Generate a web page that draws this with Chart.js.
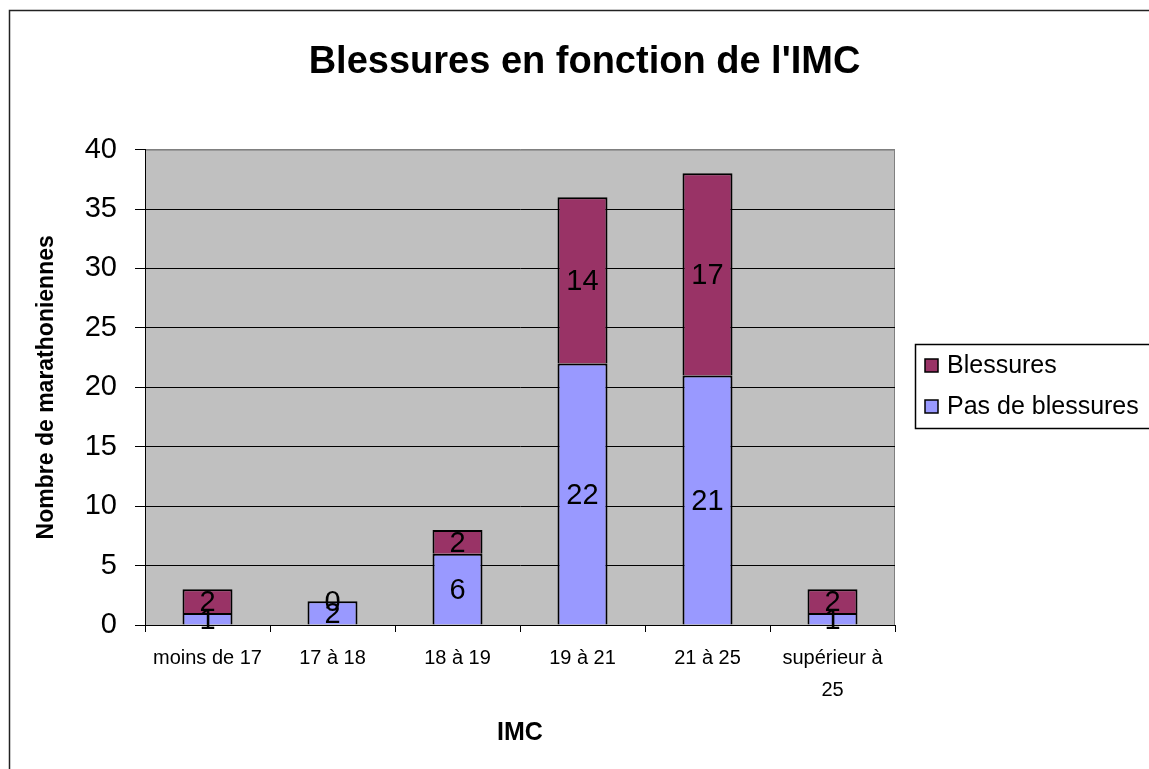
<!DOCTYPE html>
<html>
<head>
<meta charset="utf-8">
<script src="https://cdn.jsdelivr.net/npm/chart.js@4/dist/chart.umd.min.js"></script>
<style>
  body { margin: 0; background: #fff; }
</style>
</head>
<body>
<canvas id="myChart" width="1149" height="769"></canvas>
<script>
var categories = ['moins de 17', '17 à 18', '18 à 19', '19 à 21', '21 à 25', ['supérieur à', '25']];
var pasDeBlessures = [1, 2, 6, 22, 21, 1];
var blessures = [2, 0, 2, 14, 17, 2];
var font = "'Liberation Sans', Arial, sans-serif";

var ctx = document.getElementById('myChart');

// fond gris + cadre du graphique
var fondPlugin = {
    id: 'fond',
    beforeDraw: function(chart){
        var c = chart.ctx, a = chart.chartArea;
        c.save();
        c.fillStyle = '#C0C0C0';
        c.fillRect(a.left, a.top, a.right - a.left, a.bottom - a.top);
        c.strokeStyle = '#808080';
        c.lineWidth = 1;
        c.beginPath();
        c.moveTo(a.left, a.top + 0.5);
        c.lineTo(a.right - 0.5, a.top + 0.5);
        c.lineTo(a.right - 0.5, a.bottom);
        c.stroke();
        c.strokeStyle = '#222';
        c.lineWidth = 1.5;
        c.beginPath();
        c.moveTo(9.5, chart.height);
        c.lineTo(9.5, 10.5);
        c.lineTo(chart.width, 10.5);
        c.stroke();
        c.restore();
    }
};

// étiquettes de valeurs + légende encadrée
var etiquettesPlugin = {
    id: 'etiquettes',
    afterDatasetsDraw: function(chart){
        var c = chart.ctx;
        c.save();
        c.fillStyle = '#000';
        c.font = '29px ' + font;
        c.textAlign = 'center';
        c.textBaseline = 'middle';
        chart.data.datasets.forEach(function(ds, i){
            chart.getDatasetMeta(i).data.forEach(function(el, j){
                c.fillText(ds.data[j], el.x, (el.y + el.base) / 2 + 2);
            });
        });
        c.restore();
    },
    afterDraw: function(chart){
        var c = chart.ctx;
        c.save();
        c.fillStyle = '#fff';
        c.fillRect(915, 344, 240, 84);
        c.strokeStyle = '#000';
        c.lineWidth = 1.5;
        c.strokeRect(915.5, 344.5, 240, 84);
        c.font = '25px ' + font;
        c.textBaseline = 'middle';
        var items = chart.data.datasets.slice().reverse();
        items.forEach(function(ds, i){
            var y = 366 + i * 41;
            c.fillStyle = ds.backgroundColor;
            c.fillRect(925, y - 7, 13, 13);
            c.strokeStyle = '#000';
            c.lineWidth = 1.5;
            c.strokeRect(925, y - 7, 13, 13);
            c.fillStyle = '#000';
            c.fillText(ds.label, 947, y);
        });
        c.restore();
    }
};

var myChart = new Chart(ctx, {
    type: 'bar',
    data: {
        labels: categories,
        datasets: [{
            label: 'Pas de blessures',
            data: pasDeBlessures,
            backgroundColor: '#9999FF',
            borderColor: '#000',
            borderWidth: { top: 2, left: 2, right: 2, bottom: 0 },
            borderSkipped: false
        }, {
            label: 'Blessures',
            data: blessures,
            backgroundColor: '#993366',
            borderColor: '#000',
            borderWidth: { top: 2, left: 2, right: 2, bottom: 0 },
            borderSkipped: false
        }]
    },
    options: {
        responsive: false,
        animation: false,
        layout: { padding: { left: 20, right: 0, top: 0, bottom: 0 } },
        datasets: { bar: { barPercentage: 0.4, categoryPercentage: 1 } },
        plugins: {
            legend: { display: false },
            tooltip: { enabled: false },
            title: {
                display: true,
                text: "Blessures en fonction de l'IMC",
                color: '#000',
                font: { family: font, size: 38, weight: 'bold' },
                padding: { top: 40, bottom: 64 }
            }
        },
        scales: {
            x: {
                stacked: true,
                afterFit: function(axis){ axis.height = 144; },
                grid: { drawOnChartArea: false, drawTicks: true, tickLength: 7, color: '#000', offset: true },
                border: { color: '#000', width: 1 },
                ticks: { color: '#000', padding: 10, maxRotation: 0, font: { family: font, size: 20, lineHeight: 1.6 } },
                title: {
                    display: true,
                    text: 'IMC',
                    color: '#000',
                    font: { family: font, size: 25, weight: 'bold' },
                    padding: { bottom: 21 }
                }
            },
            y: {
                stacked: true,
                min: 0,
                max: 40,
                afterFit: function(axis){ axis.width = 125; },
                grid: {
                    color: function(c){ return c.tick && c.tick.value === 40 ? '#808080' : '#000'; },
                    tickColor: '#000',
                    tickLength: 10
                },
                border: { color: '#000', width: 1 },
                ticks: { stepSize: 5, color: '#000', padding: 18, font: { family: font, size: 29 } },
                title: {
                    display: true,
                    text: 'Nombre de marathoniennes',
                    color: '#000',
                    font: { family: font, size: 23, weight: 'bold' },
                    padding: { top: 13 }
                }
            },
            // axe vide à droite : réserve la place de la légende
            y2: {
                position: 'right',
                afterFit: function(axis){ axis.width = 254; },
                grid: { display: false },
                border: { display: false },
                ticks: { display: false }
            }
        }
    },
    plugins: [fondPlugin, etiquettesPlugin]
});
</script>
</body>
</html>
